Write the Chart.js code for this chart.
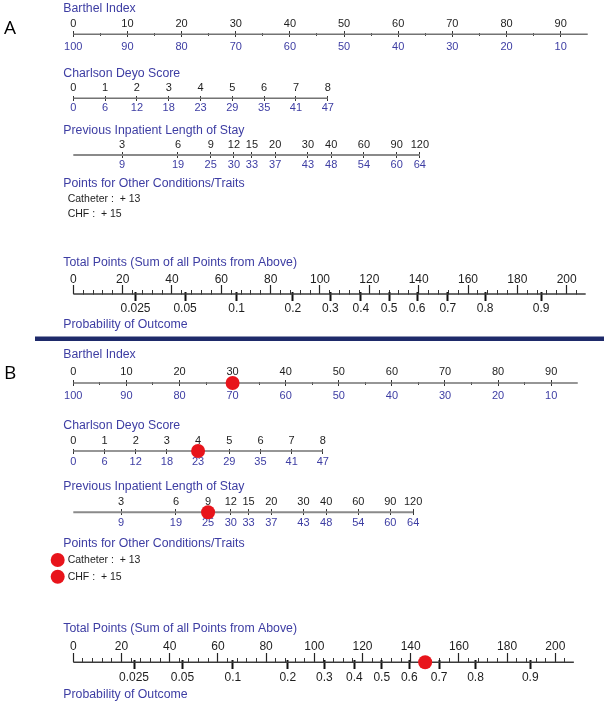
<!DOCTYPE html>
<html><head><meta charset="utf-8">
<script src="https://cdn.jsdelivr.net/npm/chart.js@4.4.0/dist/chart.umd.min.js"></script>
<style>html,body{margin:0;padding:0;background:#fff;overflow:hidden}canvas{display:block}</style>
</head><body>
<canvas id="c" width="604" height="708"></canvas>
<script>
// ---------------- data ----------------
const rowTitles = ['Barthel Index','Charlson Deyo Score','Previous Inpatient Length of Stay',
  'Points for Other Conditions/Traits','Total Points (Sum of all Points from Above)','Probability of Outcome'];
const barthelValues = [0,10,20,30,40,50,60,70,80,90];
const barthelPoints = [100,90,80,70,60,50,40,30,20,10];
const barthelMinorValues = [5,15,25,35,45,55,65,75,85];
const barthelAxisEnd = 95;
const charlsonScores = [0,1,2,3,4,5,6,7,8];
const charlsonPoints = [0,6,12,18,23,29,35,41,47];
const losDays = [3,6,9,12,15,20,30,40,60,90,120];
const losPoints = [9,19,25,30,33,37,43,48,54,60,64];
const conditionNames = ['Catheter','CHF'];
const conditionPoints = [13,15];
const totalTicks = [0,20,40,60,80,100,120,140,160,180,200];
const totalMinorStep = 4;
const totalAxisEnd = 207.7;
const probLabels = ['0.025','0.05','0.1','0.2','0.3','0.4','0.5','0.6','0.7','0.8','0.9'];
const probAtPoints = [25.2,45.3,66.2,89,104.2,116.6,128,139.4,151.8,166.9,189.6];
// example patient shown in panel B
const patientBarthel = [30];
const patientCharlson = [4];
const patientLOS = [9];
const patientConditions = ['Catheter','CHF'];
const patientTotal = [146];

// ---------------- layout ----------------
const W = 604, H = 708;
const FONT = '"Liberation Sans", Arial, Helvetica, sans-serif';
const BLUE = '#3d3da3', DARK = '#1e1e1e', GREY = '#737373', RED = '#e8141b', NAVY = '#1e2a6a';
const TITLE_X = 63.3, COND_X = 67.7, BULLET_X = 57.7;
const panels = [
  { id:'A', letterY:28.5, origin:73.3, ppp:5.415, tpp:2.467, patient:false,
    barthel:{title:9, top:24.3, line:34.3, bot:46.7},
    charlson:{title:74, top:88.3, line:98.3, bot:108},
    los:{title:130.7, top:145, line:155, bot:164.5},
    other:{title:184, rows:[199.3,214]},
    total:{title:262.3, top:279.3, line:294, bot:308.3, probTitle:325} },
  { id:'B', letterY:373.5, origin:73.3, ppp:5.31, tpp:2.41, patient:true,
    barthel:{title:355, top:371.7, line:383, bot:395.5},
    charlson:{title:426, top:440.7, line:451, bot:461.7},
    los:{title:486.7, top:502.3, line:512.3, bot:522.5},
    other:{title:544, rows:[560,576.7]},
    total:{title:628.3, top:646.7, line:662.3, bot:677.3, probTitle:695} }
];

const last = a => a[a.length-1];
function linRange(origin, pxPerUnit, unitAtOrigin){
  return {type:'linear', min: unitAtOrigin - origin/pxPerUnit, max: unitAtOrigin + (W-origin)/pxPerUnit};
}
function logRange(p){
  const d0 = losDays[0], d1 = last(losDays), p0 = losPoints[0], p1 = last(losPoints);
  const pxPerDecade = p.ppp*(p1-p0)/Math.log10(d1/d0);
  const lmin = Math.log10(d0) - (p.origin + p.ppp*p0)/pxPerDecade;
  return {type:'logarithmic', min: Math.pow(10,lmin), max: Math.pow(10, lmin + W/pxPerDecade),
          start: Math.pow(10, Math.log10(d0) - p0*p.ppp/pxPerDecade)};
}
function labelAxis(r, vals, labels, yCenter, color, size){
  return { type:r.type, axis:'x', position:{y: yCenter - 0.6*size}, min:r.min, max:r.max, bounds:'data',
    grid:{display:false, drawTicks:false}, border:{display:false},
    afterBuildTicks: s => { s.ticks = vals.map(v => ({value:v})); },
    ticks:{autoSkip:false, maxRotation:0, minRotation:0, padding:0, color, font:{family:FONT, size},
      callback:(v,i) => labels[i]} };
}
function tickAxis(r, vals, yTop, len, color, width){
  return { type:r.type, axis:'x', position:{y: yTop}, min:r.min, max:r.max, bounds:'data',
    grid:{display:true, drawOnChartArea:false, drawTicks:true, tickLength:len, tickColor:color, tickWidth:width, color:'rgba(0,0,0,0)'},
    border:{display:false},
    afterBuildTicks: s => { s.ticks = vals.map(v => ({value:v})); },
    ticks:{display:false, autoSkip:false, maxRotation:0, minRotation:0} };
}
function lineDs(xAxisID, x0, x1, y, color, width){
  return {xAxisID, yAxisID:'y', data:[{x:x0,y},{x:x1,y}], showLine:true, borderColor:color,
    borderWidth:width, pointRadius:0, order:2};
}
function dotDs(xAxisID, xs, y){
  return {xAxisID, yAxisID:'y', data: xs.map(x => ({x, y})), showLine:false,
    pointRadius:7, backgroundColor:RED, borderWidth:0, pointHoverRadius:7, order:0};
}

const scales = {
  y:{type:'linear', display:false, min:0, max:H, reverse:true},
  px:{type:'linear', axis:'x', display:false, min:0, max:W}
};
const datasets = [];
const totalMinor = [];
for (let v = 0; v <= totalAxisEnd; v += totalMinorStep) if (v % 20 !== 0) totalMinor.push(v);

panels.forEach(p => {
  const P = p.id;
  // Barthel
  const bUnit = p.ppp*Math.abs((barthelPoints[0]-last(barthelPoints))/(last(barthelValues)-barthelValues[0]));
  const rb = linRange(p.origin, bUnit, barthelValues[0]);
  scales[P+'b_top'] = labelAxis(rb, barthelValues, barthelValues, p.barthel.top, DARK, 11);
  scales[P+'b_bot'] = labelAxis(rb, barthelValues, barthelPoints, p.barthel.bot, BLUE, 11);
  scales[P+'b_tk'] = tickAxis(rb, barthelValues, p.barthel.line-3, 6, '#333', 1);
  scales[P+'b_mn'] = tickAxis(rb, barthelMinorValues, p.barthel.line-1.5, 3, '#444', 1);
  datasets.push(lineDs(P+'b_top', barthelValues[0], barthelAxisEnd, p.barthel.line, GREY, 1.5));
  // Charlson
  const cUnit = p.ppp*(last(charlsonPoints)-charlsonPoints[0])/(last(charlsonScores)-charlsonScores[0]);
  const rc = linRange(p.origin, cUnit, charlsonScores[0]);
  scales[P+'c_top'] = labelAxis(rc, charlsonScores, charlsonScores, p.charlson.top, DARK, 11);
  scales[P+'c_bot'] = labelAxis(rc, charlsonScores, charlsonPoints, p.charlson.bot, BLUE, 11);
  scales[P+'c_tk'] = tickAxis(rc, charlsonScores, p.charlson.line-2.5, 5, '#333', 1);
  datasets.push(lineDs(P+'c_top', charlsonScores[0], last(charlsonScores), p.charlson.line, GREY, 1.5));
  // Length of stay
  const rl = logRange(p);
  scales[P+'l_top'] = labelAxis(rl, losDays, losDays, p.los.top, DARK, 11);
  scales[P+'l_bot'] = labelAxis(rl, losDays, losPoints, p.los.bot, BLUE, 11);
  scales[P+'l_tk'] = tickAxis(rl, losDays, p.los.line-3, 6, '#333', 1);
  datasets.push(lineDs(P+'l_top', rl.start, last(losDays), p.los.line, '#8a8a8a', 2));
  // Total points / probability
  const rt = linRange(p.origin, p.tpp, totalTicks[0]);
  scales[P+'t_top'] = labelAxis(rt, totalTicks, totalTicks, p.total.top, DARK, 12);
  scales[P+'t_tk'] = tickAxis(rt, totalTicks, p.total.line-9, 9, '#222', 1.2);
  scales[P+'t_mn'] = tickAxis(rt, totalMinor, p.total.line-4.5, 4.5, '#333', 1);
  scales[P+'t_pr'] = tickAxis(rt, probAtPoints, p.total.line-2, 9, '#111', 2);
  scales[P+'t_bot'] = labelAxis(rt, probAtPoints, probLabels, p.total.bot, DARK, 12);
  datasets.push(lineDs(P+'t_top', totalTicks[0], totalAxisEnd, p.total.line, '#3a3a3a', 1.5));
  if (p.patient) {
    datasets.push(dotDs(P+'b_top', patientBarthel, p.barthel.line));
    datasets.push(dotDs(P+'c_top', patientCharlson, p.charlson.line));
    datasets.push(dotDs(P+'l_top', patientLOS, p.los.line));
    datasets.push(dotDs(P+'t_top', patientTotal, p.total.line));
    datasets.push({xAxisID:'px', yAxisID:'y', showLine:false, pointRadius:7, backgroundColor:RED,
      borderWidth:0, order:0,
      data: patientConditions.map(n => ({x:BULLET_X, y:p.other.rows[conditionNames.indexOf(n)]}))});
  }
});

const textPlugin = {
  id:'nomoText',
  afterDraw(chart){
    const ctx = chart.ctx;
    ctx.save();
    ctx.textBaseline = 'middle'; ctx.textAlign = 'left';
    panels.forEach(p => {
      ctx.fillStyle = '#000'; ctx.font = '19px "Open Sans", "Liberation Sans", sans-serif';
      ctx.fillText(p.id, 4, p.letterY);
      ctx.fillStyle = BLUE; ctx.font = '12.3px ' + FONT;
      const ys = [p.barthel.title, p.charlson.title, p.los.title, p.other.title, p.total.title, p.total.probTitle];
      rowTitles.forEach((t,i) => ctx.fillText(t, TITLE_X, ys[i]));
      ctx.fillStyle = DARK; ctx.font = '10.5px ' + FONT;
      conditionNames.forEach((n,i) => ctx.fillText(n + ' :  + ' + conditionPoints[i], COND_X, p.other.rows[i]));
    });
    ctx.fillStyle = NAVY;
    ctx.fillRect(35, 336.5, W-35, 4.5);
    ctx.restore();
  }
};

new Chart(document.getElementById('c'), {
  type:'scatter',
  data:{datasets},
  options:{
    responsive:false, maintainAspectRatio:false, animation:false, devicePixelRatio:1,
    events:[], layout:{padding:0, autoPadding:false},
    plugins:{legend:{display:false}, tooltip:{enabled:false}},
    scales
  },
  plugins:[textPlugin]
});
</script>
</body></html>
